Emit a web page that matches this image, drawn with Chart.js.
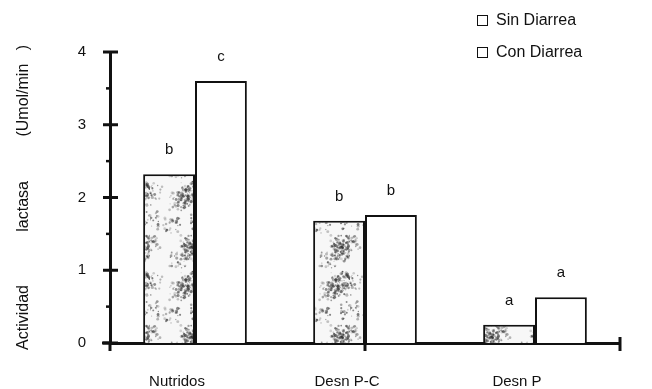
<!DOCTYPE html>
<html>
<head>
<meta charset="utf-8">
<style>
  body { margin: 0; background: #fff; }
  #wrap { position: relative; width: 652px; height: 389px; }
  #legend { position: absolute; left: 477px; top: 11px; font: 16px "Liberation Sans", Arial, sans-serif; color: #111; }
  .item { display: flex; align-items: center; height: 18px; margin-bottom: 14px; }
  .box { width: 9px; height: 9px; border: 1.5px solid #111; margin-right: 8px; background: #fff; }
</style>
</head>
<body>
<div id="wrap">
  <canvas id="chart" width="652" height="389"></canvas>
  <div id="legend"></div>
</div>

<script src="https://cdn.jsdelivr.net/npm/chart.js@4/dist/chart.umd.min.js"></script>
<script>
  const categories = ['Nutridos', 'Desn P-C', 'Desn P']
  const seriesNames = ['Sin Diarrea', 'Con Diarrea']
  const sinDiarrea = [2.32, 1.68, 0.25]
  const conDiarrea = [3.60, 1.76, 0.63]
  const sinLetters = ['b', 'b', 'a']
  const conLetters = ['c', 'b', 'a']
  const yTitle = 'Actividad            lactasa          (Umol/min   )'

  const FONT = '"Liberation Sans", Arial, sans-serif'
  const INK = '#111'

  // grainy grey fill like the scanned original (fixed seed, texture only)
  function speckle() {
    const c = document.createElement('canvas')
    c.width = 50
    c.height = 90
    const g = c.getContext('2d')
    g.fillStyle = '#f7f7f7'
    g.fillRect(0, 0, c.width, c.height)
    let s = 11
    const rnd = () => (s = (s * 16807) % 2147483647) / 2147483647
    // loose clumps of dark grain
    for (let k = 0; k < 14; k++) {
      const cx = rnd() * c.width, cy = rnd() * c.height
      for (let i = 0; i < 32; i++) {
        const x = (cx + (rnd() - 0.5) * 18 + c.width) % c.width
        const y = (cy + (rnd() - 0.5) * 18 + c.height) % c.height
        g.fillStyle = `rgba(45,45,45,${0.15 + rnd() * 0.45})`
        g.beginPath()
        g.arc(x, y, 0.5 + rnd() * 1.1, 0, Math.PI * 2)
        g.fill()
      }
    }
    return g.createPattern(c, 'repeat')
  }

  // legend as html, both boxes drawn empty like the original
  const legend = document.getElementById('legend')
  seriesNames.forEach(name => {
    const item = document.createElement('div')
    item.className = 'item'
    item.innerHTML = `<span class="box"></span><span>${name}</span>`
    legend.appendChild(item)
  })

  const annotate = {
    id: 'annotate',
    afterDraw(chart) {
      const ctx = chart.ctx
      const x = chart.scales.x, y = chart.scales.y
      const base = y.getPixelForValue(0)
      ctx.save()
      ctx.font = `15px ${FONT}`
      ctx.fillStyle = INK
      ctx.textAlign = 'center'
      ctx.textBaseline = 'middle'
      ;[sinLetters, conLetters].forEach((letters, d) => {
        chart.getDatasetMeta(d).data.forEach((bar, i) => {
          ctx.fillText(letters[i], bar.x, bar.y - 24)
        })
      })

      // tick marks crossing the axes
      ctx.strokeStyle = INK
      y.ticks.forEach(t => {
        const py = y.getPixelForValue(t.value)
        const major = Number.isInteger(t.value)
        ctx.lineWidth = major ? 3 : 2.5
        ctx.beginPath()
        ctx.moveTo(x.left - (major ? 7 : 4), py)
        ctx.lineTo(x.left + (major ? 8 : 0), py)
        ctx.stroke()
      })
      ctx.lineWidth = 3
      ctx.beginPath()
      ctx.moveTo(x.left - 8, base)
      ctx.lineTo(x.left, base)
      ctx.stroke()
      ;[x.left, x.getPixelForValue(1), x.right].forEach(px => {
        ctx.beginPath()
        ctx.moveTo(px, base - (px === x.right ? 6 : 0))
        ctx.lineTo(px, base + 8)
        ctx.stroke()
      })
      ctx.restore()
    }
  }

  const ctx = document.getElementById('chart').getContext('2d')
  const chart = new Chart(ctx, {
    type: 'bar',
    data: {
      labels: categories,
      datasets: [{
        label: seriesNames[0],
        data: sinDiarrea,
        backgroundColor: speckle(),
        borderColor: INK,
        borderWidth: 2,
        borderSkipped: 'bottom'
      }, {
        label: seriesNames[1],
        data: conDiarrea,
        backgroundColor: '#fff',
        borderColor: INK,
        borderWidth: 2,
        borderSkipped: 'bottom'
      }]
    },
    options: {
      responsive: false,
      animation: false,
      layout: { padding: { top: 52, right: 32, left: 10, bottom: 0 } },
      plugins: {
        legend: { display: false },
        tooltip: { enabled: false }
      },
      datasets: {
        bar: { categoryPercentage: 0.61, barPercentage: 1.0 }
      },
      scales: {
        x: {
          grid: { display: false, drawTicks: false },
          border: { display: true, color: INK, width: 3 },
          ticks: {
            color: INK,
            font: { family: FONT, size: 15 },
            padding: 30,
            labelOffset: -18,
            maxRotation: 0
          },
          afterFit: s => { s.height = 46 }
        },
        y: {
          min: 0,
          max: 4,
          grid: { display: false, drawTicks: false },
          border: { display: true, color: INK, width: 3 },
          ticks: {
            stepSize: 0.5,
            autoSkip: false,
            color: INK,
            padding: 24,
            font: { family: FONT, size: 15 },
            callback: v => Number.isInteger(v) ? v : ''
          },
          title: {
            display: true,
            text: yTitle,
            color: INK,
            font: { family: FONT, size: 16 },
            padding: { top: 4, bottom: 0 }
          },
          afterFit: s => { s.width = 100 }
        }
      }
    },
    plugins: [annotate]
  })
</script>
</body>
</html>
